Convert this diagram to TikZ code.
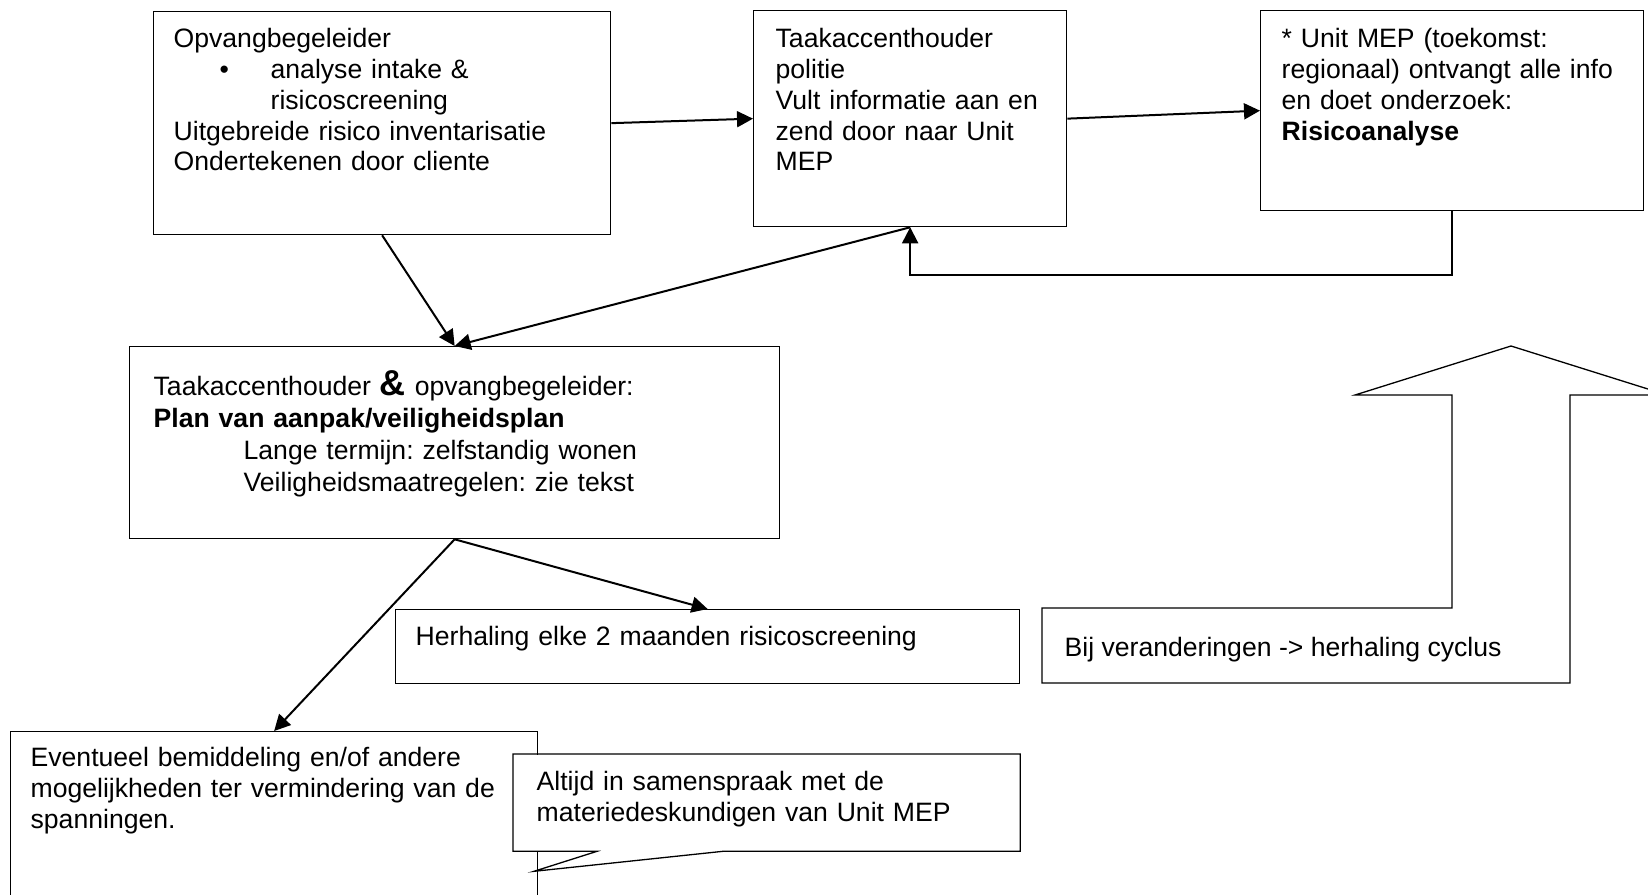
\documentclass[tikz,border=0pt]{standalone}
\usepackage{fontspec}
\setmainfont{Liberation Sans}
\usetikzlibrary{arrows.meta}
\frenchspacing

\tikzset{
  box/.style={draw, line width=0.65pt, fill=white, anchor=north west, align=left,
    inner ysep=0pt, font=\fontsize{13.3}{15.4}\selectfont},
  link/.style={line width=1pt, -{Triangle[length=8pt,width=8pt]}},
}

\begin{document}
\begin{tikzpicture}[x=0.5pt, y=-0.5pt]
  \useasboundingbox (0,0) rectangle (1648,894);
  \clip (0,0) rectangle (1648,894);

  % top row
  \node[box, inner xsep=10pt, text width=208.5pt, text height=18pt, text depth=93.5pt] (opvang) at (153,11) {Opvangbegeleider\\
    \hspace*{23pt}\makebox[25.5pt][l]{\textbullet}analyse intake \&\\
    \hspace*{48.5pt}risicoscreening\\
    Uitgebreide risico inventarisatie\\
    Ondertekenen door cliente};
  \node[box, inner xsep=11pt, text width=134.5pt, text height=18.5pt, text depth=89.5pt] (politie) at (753,10) {Taakaccenthouder\\
    politie\\
    Vult informatie aan en\\
    zend door naar Unit\\
    MEP};
  \node[box, inner xsep=10.5pt, text width=170.5pt, text height=18.5pt, text depth=81.5pt] (unitmep) at (1260,10) {* Unit MEP (toekomst:\\
    regionaal) ontvangt alle info\\
    en doet onderzoek:\\
    \textbf{Risicoanalyse}};

  % plan
  \node[box, inner xsep=12pt, text width=301pt, text height=24.5pt, text depth=71.5pt,
    font=\fontsize{13.3}{16}\selectfont] (plan) at (129,346) {Taakaccenthouder {\fontsize{18}{18}\selectfont\bfseries\&} opvangbegeleider:\\
    \textbf{Plan van aanpak/veiligheidsplan}\\
    \hspace*{45pt}Lange termijn: zelfstandig wonen\\
    \hspace*{45pt}Veiligheidsmaatregelen: zie tekst};

  % bottom part
  \node[box, inner xsep=10pt, text width=292pt, text height=18pt, text depth=19pt] (herhaling) at (395,609) {Herhaling elke 2 maanden risicoscreening};
  \node[box, inner xsep=10pt, text width=243.5pt, text height=17.5pt, text depth=82pt] (bemiddeling) at (10,731) {Eventueel bemiddeling en/of andere\\
    mogelijkheden ter vermindering van de\\
    spanningen.};
  \node[box, draw=none, inner xsep=11.5pt, text width=230pt, text height=18pt, text depth=30pt] (samen) at (513,754) {Altijd in samenspraak met de\\
    materiedeskundigen van Unit MEP};
  \fill[white] ([xshift=42pt]samen.south west) -- ([xshift=10.5pt,yshift=-10pt]samen.south west) -- ([xshift=105pt]samen.south west) -- cycle;
  \draw[line width=0.65pt] (samen.north west) -- (samen.north east) -- (samen.south east)
    -- ([xshift=105pt]samen.south west) -- ([xshift=10.5pt,yshift=-10pt]samen.south west)
    -- ([xshift=42pt]samen.south west) -- (samen.south west) -- cycle;

  % big up arrow
  \draw[line width=0.65pt] (1042,608) -- (1452,608) -- (1452,395) -- (1355,395) -- (1511,346)
    -- (1667,395) -- (1570,395) -- (1570,683) -- (1042,683) -- cycle;
  \node[box, draw=none, fill=none, inner xsep=11pt, text height=24pt, text depth=13.5pt] (cyclus) at (1042,608) {Bij veranderingen -> herhaling cyclus};

  % arrows
  \draw[link] (opvang.east) -- (politie.west);
  \draw[link] (politie.east) -- (unitmep.west);
  \draw[link] (unitmep.south) -- ++(0,64) -| (politie.south);
  \draw[link] (politie.south) -- (plan.north);
  \draw[link] (opvang.south) -- (plan.north);
  \draw[link] (plan.south) -- (herhaling.north);
  \draw[link] (plan.south) -- (bemiddeling.north);
\end{tikzpicture}
\end{document}
